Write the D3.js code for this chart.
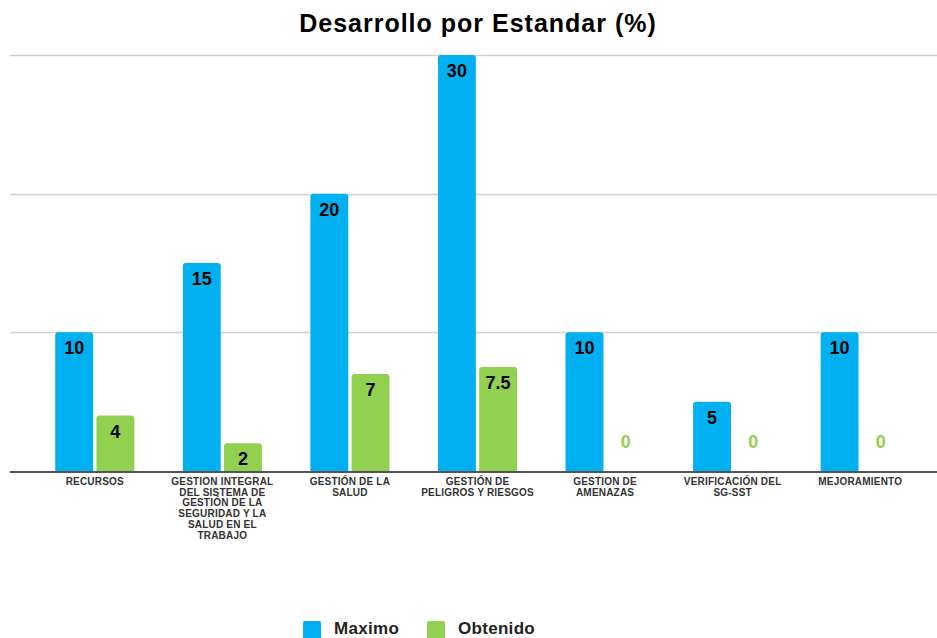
<!DOCTYPE html>
<html>
<head>
<meta charset="utf-8">
<script src="https://cdn.jsdelivr.net/npm/d3@7"></script>
<style>
  body { margin: 0; background: #fff; }
  text { font-family: "Liberation Sans", Arial, sans-serif; }
</style>
</head>
<body>
<div id="chart-area"></div>
<script>
// data
const categories = [
  "RECURSOS",
  "GESTION INTEGRAL\nDEL SISTEMA DE\nGESTIÓN DE LA\nSEGURIDAD Y LA\nSALUD EN EL\nTRABAJO",
  "GESTIÓN DE LA\nSALUD",
  "GESTIÓN DE\nPELIGROS Y RIESGOS",
  "GESTION DE\nAMENAZAS",
  "VERIFICACIÓN DEL\nSG-SST",
  "MEJORAMIENTO"
]
const seriesNames = ["Maximo", "Obtenido"]
const maximo   = [10, 15, 20, 30, 10, 5, 10]
const obtenido = [4, 2, 7, 7.5, 0, 0, 0]
const gridTicks = [10, 20, 30]

const COLORS = {Maximo: "#00B0F0", Obtenido: "#92D050"}

const WIDTH = 937, HEIGHT = 638

const svg = d3.select("#chart-area").append("svg")
              .attr("width", WIDTH)
              .attr("height", HEIGHT)

// title
svg.append("text")
   .attr("x", 478)
   .attr("y", 32)
   .attr("text-anchor", "middle")
   .attr("font-size", "25px")
   .attr("font-weight", "bold")
   .attr("letter-spacing", "1px")
   .attr("fill", "#000")
   .text("Desarrollo por Estandar (%)")

// scales
const x0 = d3.scaleBand()
             .domain(categories)
             .range([31, 924])
             .paddingInner(0.38)
             .paddingOuter(0.19)

const x1 = d3.scaleBand()
             .domain(seriesNames)
             .range([0, x0.bandwidth()])
             .paddingInner(0.08)

const y = d3.scaleLinear()
            .domain([0, 30])
            .range([471, 55])

// grid
svg.append("g")
   .selectAll("line")
   .data(gridTicks)
   .join("line")
   .attr("x1", 10)
   .attr("x2", WIDTH)
   .attr("y1", d => Math.round(y(d)) + 0.5)
   .attr("y2", d => Math.round(y(d)) + 0.5)
   .attr("stroke", "#d0d0d0")
   .attr("stroke-width", 1.5)

// rows
const rows = categories.map((c, i) => ({cat: c, values: [
  {key: "Maximo", value: maximo[i]},
  {key: "Obtenido", value: obtenido[i]}
]}))

// rounded top bar path
function barPath(x, yTop, w, h, r) {
  if (h <= 0) return ""
  r = Math.min(r, h, w / 2)
  return `M${x},${yTop + h}V${yTop + r}Q${x},${yTop} ${x + r},${yTop}` +
         `H${x + w - r}Q${x + w},${yTop} ${x + w},${yTop + r}V${yTop + h}Z`
}

const groups = svg.append("g")
                  .selectAll("g")
                  .data(rows)
                  .join("g")
                  .attr("transform", d => `translate(${x0(d.cat)},0)`)

groups.selectAll("path")
      .data(d => d.values)
      .join("path")
      .attr("d", d => barPath(x1(d.key), y(d.value), x1.bandwidth(), y(0) - y(d.value), 3))
      .attr("fill", d => COLORS[d.key])

groups.selectAll("text")
      .data(d => d.values)
      .join("text")
      .attr("x", d => x1(d.key) + x1.bandwidth() / 2)
      .attr("y", d => d.value > 0 ? y(d.value) + 22 : y(0) - 23)
      .attr("text-anchor", "middle")
      .attr("font-size", "18px")
      .attr("font-weight", "bold")
      .attr("fill", d => d.value > 0 ? "#000" : COLORS[d.key])
      .text(d => d.value)

// baseline
svg.append("line")
   .attr("x1", 10)
   .attr("x2", WIDTH)
   .attr("y1", y(0) + 1)
   .attr("y2", y(0) + 1)
   .attr("stroke", "#555")
   .attr("stroke-width", 2)

// category labels
const labels = svg.append("g")
                  .selectAll("text")
                  .data(categories)
                  .join("text")
                  .attr("text-anchor", "middle")
                  .attr("font-size", "10px")
                  .attr("font-weight", "bold")
                  .attr("fill", "#333")
                  .attr("letter-spacing", "0.2px")

labels.selectAll("tspan")
      .data(d => d.split("\n").map(t => ({t, c: d})))
      .join("tspan")
      .attr("x", d => x0(d.c) + x0.bandwidth() / 2)
      .attr("y", (d, i) => 485 + i * 10.7)
      .text(d => d.t)

// legend
const legendX = [303, 427]
const legend = svg.append("g")
                  .selectAll("g")
                  .data(seriesNames)
                  .join("g")
                  .attr("transform", (d, i) => `translate(${legendX[i]},621)`)

legend.append("rect")
      .attr("width", 18)
      .attr("height", 18)
      .attr("rx", 1.5)
      .attr("fill", d => COLORS[d])

legend.append("text")
      .attr("x", 31)
      .attr("y", 13)
      .attr("font-size", "17px")
      .attr("font-weight", "bold")
      .attr("letter-spacing", "0.3px")
      .attr("fill", "#222")
      .text(d => d)
</script>
</body>
</html>
